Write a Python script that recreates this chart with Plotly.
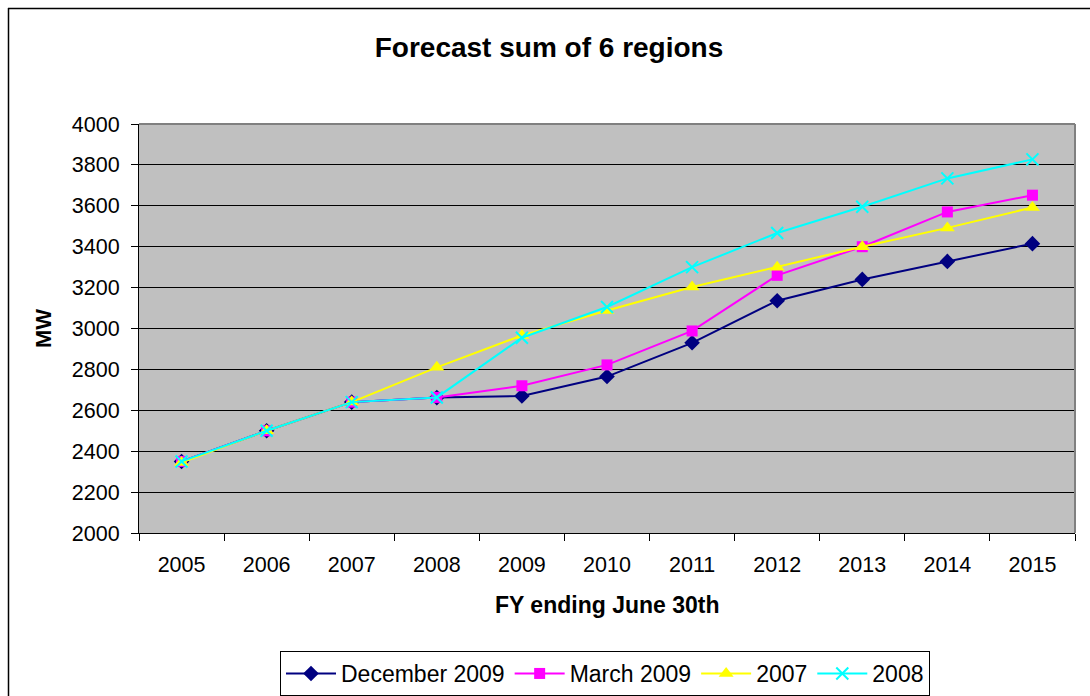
import plotly.graph_objects as go

years = ["2005", "2006", "2007", "2008", "2009", "2010", "2011", "2012", "2013", "2014", "2015"]
dec_2009 = [2350, 2500, 2640, 2662, 2670, 2765, 2930, 3136, 3240, 3328, 3415]
mar_2009 = [2350, 2500, 2640, 2663, 2720, 2822, 2988, 3260, 3400, 3570, 3652]
fc_2007 = [2345, 2500, 2640, 2810, 2966, 3088, 3203, 3300, 3400, 3492, 3592]
fc_2008 = [2350, 2500, 2640, 2663, 2955, 3105, 3300, 3467, 3595, 3734, 3827]
y_ticks = [2000, 2200, 2400, 2600, 2800, 3000, 3200, 3400, 3600, 3800, 4000]

FONT = "Liberation Sans, Arial, sans-serif"

W, H = 1090, 696
L, R, T, B = 139, 1075, 124, 533
pw, ph = R - L, B - T


def px(x):
    return (x - L) / pw


def py(y):
    return (B - y) / ph


fig = go.Figure()
fig.add_trace(go.Scatter(x=years, y=dec_2009, name="December 2009", mode="lines+markers",
                         line=dict(color="#000080", width=2),
                         marker=dict(symbol="diamond", size=12, color="#000080")))
fig.add_trace(go.Scatter(x=years, y=mar_2009, name="March 2009", mode="lines+markers",
                         line=dict(color="#FF00FF", width=2),
                         marker=dict(symbol="square", size=11, color="#FF00FF")))
fig.add_trace(go.Scatter(x=years, y=fc_2007, name="2007", mode="lines+markers",
                         line=dict(color="#FFFF00", width=2),
                         marker=dict(symbol="triangle-up", size=13, color="#FFFF00")))
fig.add_trace(go.Scatter(x=years, y=fc_2008, name="2008", mode="lines+markers",
                         line=dict(color="#00FFFF", width=2),
                         marker=dict(symbol="x-thin", size=12, color="#00FFFF",
                                     line=dict(color="#00FFFF", width=2))))

fig.update_layout(
    width=W, height=H,
    margin=dict(l=L, r=W - R, t=T, b=H - B, pad=0, autoexpand=False),
    paper_bgcolor="white",
    plot_bgcolor="#C0C0C0",
    font=dict(family=FONT, color="black", size=21),
    title=dict(text="<b>Forecast sum of 6 regions</b>", x=549 / W, xanchor="center",
               y=1 - 47 / H, yanchor="middle", font=dict(size=28, family=FONT, color="black")),
    showlegend=True,
    legend=dict(orientation="h", x=px(280), xanchor="left",
                y=py(651), yanchor="top",
                bordercolor="black", borderwidth=1, bgcolor="white",
                font=dict(size=23, family=FONT, color="black"),
                itemwidth=50, tracegroupgap=0),
    xaxis=dict(type="category", range=[-0.5, len(years) - 0.5],
               tickson="boundaries", ticks="outside", ticklen=7,
               tickcolor="black", showline=True, linecolor="black", linewidth=1,
               showgrid=False, mirror=False, zeroline=False, ticklabelstandoff=12,
               tickfont=dict(size=21.5, family=FONT, color="black")),
    yaxis=dict(range=[2000, 4000], tickvals=y_ticks, ticks="outside", ticklen=7,
               tickcolor="black", showline=True, linecolor="black", linewidth=1,
               showgrid=True, gridcolor="black", gridwidth=1, zeroline=False,
               ticklabelstandoff=7,
               tickfont=dict(size=21.5, family=FONT, color="black")),
    annotations=[
        dict(text="<b>FY ending June 30th</b>", xref="paper", yref="paper",
             x=px(607), y=py(605), xanchor="center", yanchor="middle",
             showarrow=False, font=dict(size=23, family=FONT, color="black")),
        dict(text="<b>MW</b>", xref="paper", yref="paper", textangle=-90,
             x=px(43), y=py(329), xanchor="center", yanchor="middle",
             showarrow=False, font=dict(size=22, family=FONT, color="black")),
    ],
    shapes=[
        dict(type="line", xref="paper", yref="paper", x0=0, x1=1, y0=1, y1=1,
             line=dict(color="#808080", width=2), layer="above"),
        dict(type="line", xref="paper", yref="paper", x0=1, x1=1, y0=0, y1=1,
             line=dict(color="#808080", width=2), layer="above"),
        dict(type="line", xref="paper", yref="paper",
             x0=px(8), x1=px(1100), y0=py(8.5), y1=py(8.5),
             line=dict(color="black", width=1.5)),
        dict(type="line", xref="paper", yref="paper",
             x0=px(8.5), x1=px(8.5), y0=py(8), y1=py(710),
             line=dict(color="black", width=1.5)),
    ],
)

fig.write_html("out.html", config={"displayModeBar": False},
               post_script="document.body.style.margin='0';document.body.style.overflow='hidden';")
